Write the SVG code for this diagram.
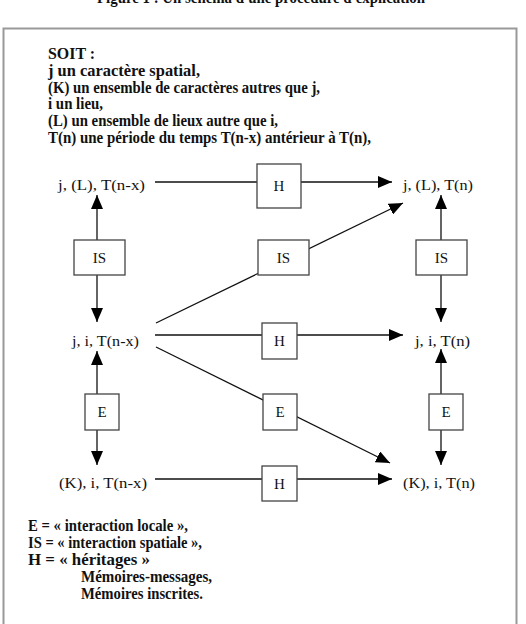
<svg xmlns="http://www.w3.org/2000/svg" width="526" height="624" viewBox="0 0 526 624">
<defs>
<style>
.hdr{font-family:"Liberation Serif","DejaVu Serif",serif;font-weight:bold;font-size:16px;fill:#111}
.lbl{font-family:"Liberation Serif","DejaVu Serif",serif;font-size:15px;fill:#111}
.box{fill:#fff;stroke:#444;stroke-width:1.3}
.ln{stroke:#111;stroke-width:1.3;fill:none}
.arr{marker-end:url(#ah)}
</style>
<marker id="ah" markerUnits="userSpaceOnUse" viewBox="0 0 14 12" refX="14" refY="6" markerWidth="14" markerHeight="12" orient="auto">
<path d="M0,0 L14,6 L0,12 z" fill="#000"/>
</marker>
</defs>
<rect width="526" height="624" fill="#fff"/>
<text class="hdr" x="261" y="3" font-size="13" textLength="328" lengthAdjust="spacingAndGlyphs" text-anchor="middle">Figure 1 : Un schéma d'une procédure d'explication</text>
<path d="M3.5,640 V28.5 H516.5 V640" fill="none" stroke="#999" stroke-width="2"/>
<g id="header">
<text class="hdr" x="48" y="59" textLength="47" lengthAdjust="spacingAndGlyphs">SOIT :</text>
<text class="hdr" x="48" y="76" textLength="152" lengthAdjust="spacingAndGlyphs">j un caractère spatial,</text>
<text class="hdr" x="48" y="93" textLength="272" lengthAdjust="spacingAndGlyphs">(K) un ensemble de caractères autres que j,</text>
<text class="hdr" x="48" y="109" textLength="55" lengthAdjust="spacingAndGlyphs">i un lieu,</text>
<text class="hdr" x="48" y="126" textLength="230" lengthAdjust="spacingAndGlyphs">(L) un ensemble de lieux autre que i,</text>
<text class="hdr" x="48" y="143" textLength="323" lengthAdjust="spacingAndGlyphs">T(n) une période du temps T(n-x) antérieur à T(n),</text>
</g>
<g id="connectors">
<line class="ln arr" x1="155" y1="182" x2="392" y2="182"/>
<line class="ln arr" x1="155" y1="335" x2="403" y2="335"/>
<line class="ln arr" x1="155" y1="479" x2="392" y2="479"/>
<line class="ln arr" x1="156" y1="323" x2="403" y2="203"/>
<line class="ln arr" x1="156" y1="347" x2="390" y2="463"/>
<line class="ln arr" x1="97" y1="240" x2="97" y2="195"/>
<line class="ln arr" x1="97" y1="275" x2="97" y2="322"/>
<line class="ln arr" x1="97" y1="394" x2="97" y2="351"/>
<line class="ln arr" x1="97" y1="430" x2="97" y2="465"/>
<line class="ln arr" x1="441" y1="240" x2="441" y2="195"/>
<line class="ln arr" x1="441" y1="275" x2="441" y2="322"/>
<line class="ln arr" x1="441" y1="394" x2="441" y2="349"/>
<line class="ln arr" x1="441" y1="430" x2="441" y2="465"/>
</g>
<g id="n-jLTnx"><text class="lbl" x="58" y="190" textLength="87" lengthAdjust="spacingAndGlyphs">j, (L), T(n-x)</text></g>
<g id="n-jLTn"><text class="lbl" x="403" y="190" textLength="70" lengthAdjust="spacingAndGlyphs">j, (L), T(n)</text></g>
<g id="n-jiTnx"><text class="lbl" x="72" y="346" textLength="67" lengthAdjust="spacingAndGlyphs">j, i, T(n-x)</text></g>
<g id="n-jiTn"><text class="lbl" x="415" y="346" textLength="55" lengthAdjust="spacingAndGlyphs">j, i, T(n)</text></g>
<g id="n-KiTnx"><text class="lbl" x="59" y="488" textLength="88" lengthAdjust="spacingAndGlyphs">(K), i, T(n-x)</text></g>
<g id="n-KiTn"><text class="lbl" x="403" y="488" textLength="72" lengthAdjust="spacingAndGlyphs">(K), i, T(n)</text></g>
<g id="b-H1"><rect class="box" x="257" y="164" width="44" height="44"/><text class="lbl" x="279" y="191" text-anchor="middle" font-size="17">H</text></g>
<g id="b-IS1"><rect class="box" x="74" y="240" width="51" height="35"/><text class="lbl" x="99.5" y="263" text-anchor="middle">IS</text></g>
<g id="b-IS2"><rect class="box" x="258" y="240" width="51" height="35"/><text class="lbl" x="283.5" y="263" text-anchor="middle">IS</text></g>
<g id="b-IS3"><rect class="box" x="416" y="240" width="51" height="35"/><text class="lbl" x="441.5" y="263" text-anchor="middle">IS</text></g>
<g id="b-H2"><rect class="box" x="262" y="323" width="35" height="36"/><text class="lbl" x="279.5" y="346" text-anchor="middle">H</text></g>
<g id="b-E1"><rect class="box" x="85" y="394" width="34" height="36"/><text class="lbl" x="102" y="417" text-anchor="middle">E</text></g>
<g id="b-E2"><rect class="box" x="263" y="394" width="34" height="36"/><text class="lbl" x="280" y="417" text-anchor="middle">E</text></g>
<g id="b-E3"><rect class="box" x="429" y="394" width="34" height="36"/><text class="lbl" x="446" y="417" text-anchor="middle">E</text></g>
<g id="b-H3"><rect class="box" x="262" y="466" width="35" height="35"/><text class="lbl" x="279.5" y="489" text-anchor="middle">H</text></g>
<g id="legend">
<text class="hdr" x="28" y="531" textLength="160" lengthAdjust="spacingAndGlyphs">E = « interaction locale »,</text>
<text class="hdr" x="28" y="548" textLength="174" lengthAdjust="spacingAndGlyphs">IS = « interaction spatiale »,</text>
<text class="hdr" x="28" y="565" textLength="122" lengthAdjust="spacingAndGlyphs">H = « héritages »</text>
<text class="hdr" x="81" y="582" textLength="131" lengthAdjust="spacingAndGlyphs">Mémoires-messages,</text>
<text class="hdr" x="81" y="599" textLength="122" lengthAdjust="spacingAndGlyphs">Mémoires inscrites.</text>
</g>
</svg>
